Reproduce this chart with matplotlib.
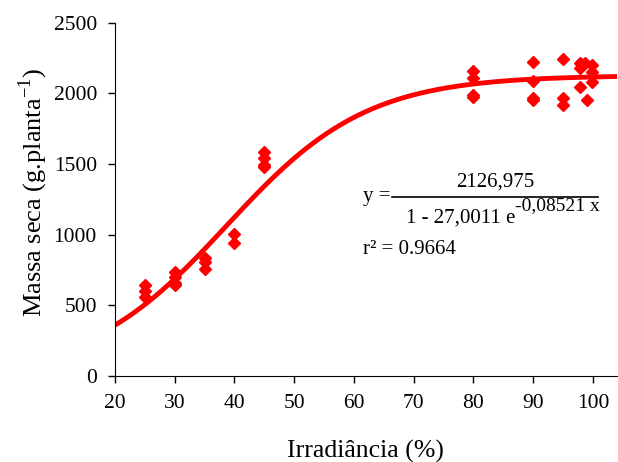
import numpy as np
import matplotlib
matplotlib.use('Agg')
import matplotlib.pyplot as plt

plt.rcParams['font.family'] = 'Liberation Serif'
plt.rcParams['mathtext.fontset'] = 'custom'
plt.rcParams['mathtext.rm'] = 'Liberation Serif'

# Observed points (irradiance %, dry mass)
irr = [25, 25, 25, 30, 30, 30, 30, 35, 35, 35, 40, 40,
       45, 45, 45, 45, 80, 80, 80, 80, 90, 90, 90, 90,
       95, 95, 95, 97.8, 97.8, 97.8, 98.7, 99, 99.9, 99.9, 99.9]
massa = [645, 600, 560, 735, 700, 660, 645, 835, 805, 760, 1005, 940,
         1585, 1545, 1495, 1480, 2160, 2110, 1990, 1975, 2220, 2090, 1965, 1955,
         2245, 1965, 1920, 2213, 2177, 2047, 2213, 1953, 2201, 2153, 2083]

# Fitted logistic model shown on the chart
a, b, k = 2126.975, 27.0011, 0.08521
x_fit = np.linspace(20, 104, 300)
y_fit = a / (1 + b * np.exp(-k * x_fit))

fig = plt.figure(figsize=(6.18, 4.62), dpi=100)
ax = fig.add_axes([0.186, 0.186, 0.812, 0.765])

ax.plot(x_fit, y_fit, color='red', lw=3.5, zorder=2)
ax.plot(irr, massa, 'D', color='red', ms=6, zorder=3)

ax.set_xlim(20, 104)
ax.set_ylim(0, 2500)
ax.set_xticks(range(20, 101, 10))
ax.set_yticks(range(0, 2501, 500))
ax.spines['top'].set_visible(False)
ax.spines['right'].set_visible(False)
ax.tick_params(direction='out', length=5, width=1, labelsize=15.5, pad=8)
ax.set_xlabel('Irradiância (%)', fontsize=18.5, labelpad=19)
ax.set_ylabel(r'Massa seca (g.planta$^{\mathregular{-1}}$)', fontsize=19)
ax.yaxis.set_label_coords(-0.13, 0.52)

# equation
ax.text(0.494, 0.507, 'y =', transform=ax.transAxes, fontsize=15, va='center', ha='left')
ax.plot([0.553, 0.962], [0.507, 0.507], transform=ax.transAxes, color='black', lw=1.2, clip_on=False)
ax.text(0.757, 0.548, '2126,975', transform=ax.transAxes, fontsize=15, va='center', ha='center')
ax.text(0.798, 0.447, '1 - 27,0011 e', transform=ax.transAxes, fontsize=15, va='center', ha='right')
ax.text(0.798, 0.482, '-0,08521 x', transform=ax.transAxes, fontsize=14, va='center', ha='left')
ax.text(0.494, 0.357, 'r² = 0.9664', transform=ax.transAxes, fontsize=15, va='center', ha='left')

fig.savefig('out.png', dpi=100)
